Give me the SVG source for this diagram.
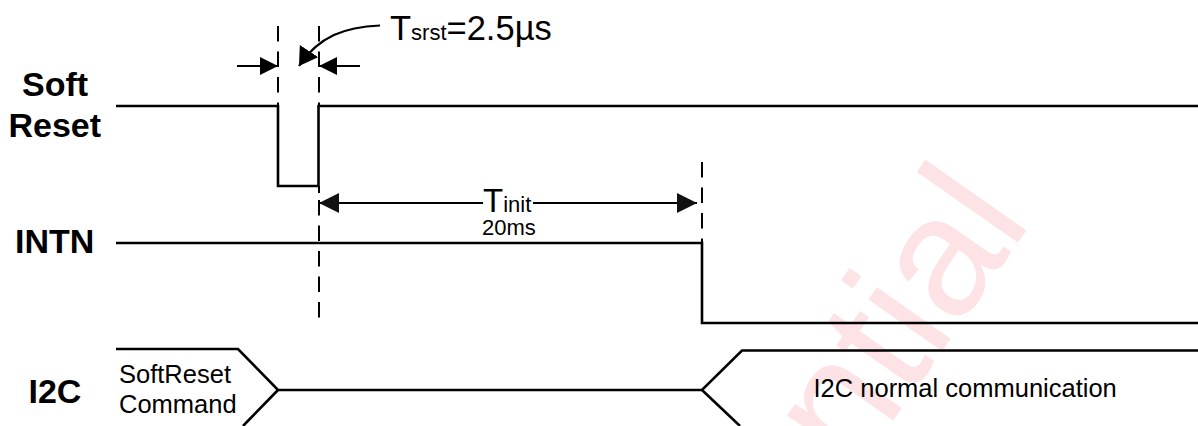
<svg xmlns="http://www.w3.org/2000/svg" width="1198" height="426" viewBox="0 0 1198 426">
<style>
text{font-family:"Liberation Sans",Arial,sans-serif;fill:#000}
.w{fill:none;stroke:#000;stroke-width:2.6}
.d{fill:none;stroke:#000;stroke-width:2;stroke-dasharray:15.5 10}
.a{fill:none;stroke:#000;stroke-width:2.2}
.b{font-weight:bold;font-size:34px}
.s{font-size:25.500px}
.sub{font-size:22px}
</style>
<defs>
<marker id="ah" markerUnits="userSpaceOnUse" markerWidth="18" markerHeight="18" refX="18" refY="9" orient="auto-start-reverse"><path d="M0 0L18 9L0 18Z" fill="#000"/></marker>
<marker id="al" markerUnits="userSpaceOnUse" markerWidth="20" markerHeight="20" refX="20" refY="10" orient="auto-start-reverse"><path d="M0 0L20 10L0 20Z" fill="#111"/></marker>
<marker id="ac" markerUnits="userSpaceOnUse" markerWidth="20" markerHeight="22" refX="18" refY="11" orient="auto"><path d="M0 0L18 11L0 22Z" fill="#000"/></marker>
</defs>
<rect width="1198" height="426" fill="#fff"/>
<text id="watermark" transform="translate(1033 221) rotate(-55)" text-anchor="end" font-size="170" style="fill:#fde3e5">ntial</text>
<g id="labels">
<text class="b" x="22" y="96">Soft</text>
<text class="b" x="8.500" y="137">Reset</text>
<text class="b" x="15" y="253">INTN</text>
<text class="b" x="28.500" y="403">I2C</text>
</g>
<g id="connectors">
<path class="w" d="M116 106H278V186H318.500V106H1198"/>
<path class="w" d="M116 243H702V323H1198"/>
<path class="w" d="M116 349H238L278 390H702L742 350.500H1198"/>
<path class="w" d="M243 426L278 390M702 390L740 426"/>
<path class="d" d="M278 26V106"/>
<path class="d" d="M319 26V106"/>
<path class="d" d="M319 186V193M319 200V322"/>
<path class="d" d="M702 162V243"/>
<path class="a" d="M237 66H278" marker-end="url(#ah)"/>
<path class="a" d="M360 66H319" marker-end="url(#ah)"/>
<path class="a" d="M319 203H483" marker-start="url(#al)"/>
<path class="a" d="M533 203H697" marker-end="url(#al)"/>
<path class="a" d="M380 25.500C345 27 319 36 299 66" marker-end="url(#ac)"/>
</g>
<g id="texts">
<text x="390" y="40" font-size="34.500">T<tspan class="sub">srst</tspan>=2.5µs</text>
<text x="483" y="212" font-size="33">T<tspan class="sub">init</tspan></text>
<text x="482" y="235" font-size="22">20ms</text>
<text class="s" x="119" y="383">SoftReset</text>
<text class="s" x="119" y="413">Command</text>
<text class="s" x="813.500" y="397">I2C normal communication</text>
</g>
</svg>
